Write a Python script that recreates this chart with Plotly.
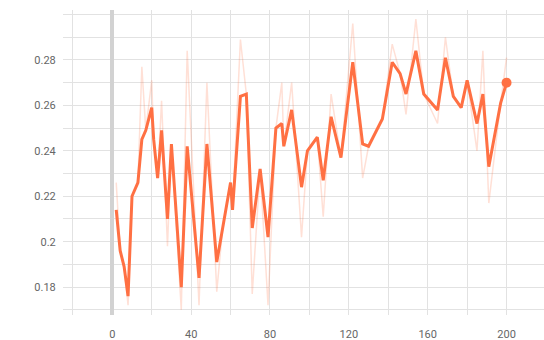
import plotly.graph_objects as go

# training steps and the logged metric (raw) plus its smoothed curve
steps = [2, 4, 6, 8, 10, 12, 13, 15, 17, 20, 21, 23, 25, 28, 30, 35, 38, 44, 48, 53,
         56, 60, 61, 65, 68, 71, 75, 79, 83, 86, 87, 91, 96, 99, 104, 107, 111, 116, 122, 127,
         130, 137, 142, 146, 149, 154, 158, 165, 169, 173, 177, 180, 185, 188, 191, 197, 200]

smoothed = [0.214, 0.196, 0.189, 0.176, 0.220, 0.224, 0.226, 0.245, 0.249, 0.259,
            0.245, 0.228, 0.249, 0.210, 0.243, 0.180, 0.242, 0.184, 0.243, 0.191,
            0.206, 0.226, 0.214, 0.264, 0.265, 0.206, 0.232, 0.202, 0.250, 0.252,
            0.242, 0.258, 0.224, 0.240, 0.246, 0.227, 0.255, 0.237, 0.279, 0.243,
            0.242, 0.254, 0.279, 0.274, 0.265, 0.284, 0.265, 0.258, 0.281, 0.264,
            0.259, 0.271, 0.252, 0.265, 0.233, 0.261, 0.270]

raw = [0.226, 0.196, 0.189, 0.172, 0.220, 0.224, 0.226, 0.277, 0.249, 0.271,
       0.245, 0.228, 0.262, 0.198, 0.243, 0.170, 0.284, 0.172, 0.270, 0.178,
       0.206, 0.226, 0.214, 0.289, 0.265, 0.177, 0.232, 0.172, 0.250, 0.270,
       0.242, 0.270, 0.202, 0.240, 0.246, 0.211, 0.265, 0.237, 0.296, 0.228,
       0.242, 0.254, 0.287, 0.274, 0.256, 0.298, 0.265, 0.252, 0.290, 0.264,
       0.259, 0.271, 0.240, 0.284, 0.217, 0.261, 0.281]

x_ticks = [0, 40, 80, 120, 160, 200]
y_ticks = [0.18, 0.2, 0.22, 0.24, 0.26, 0.28]

ORANGE = "#ff7043"
GRID = "#e2e2e2"

fig = go.Figure()
fig.add_trace(go.Scatter(x=steps, y=raw, mode="lines",
                         line=dict(color="rgba(255,112,67,0.22)", width=1.5),
                         hoverinfo="skip"))
fig.add_trace(go.Scatter(x=steps, y=smoothed, mode="lines",
                         line=dict(color=ORANGE, width=3)))
fig.add_trace(go.Scatter(x=[steps[-1]], y=[smoothed[-1]], mode="markers",
                         marker=dict(color=ORANGE, size=10)))

fig.update_layout(
    width=544, height=340,
    margin=dict(l=63, r=0, t=10, b=25),
    paper_bgcolor="white", plot_bgcolor="white",
    showlegend=False,
    font=dict(family="Roboto", size=11, color="#666666"),
)
fig.update_xaxes(
    range=[-25, 219], tickvals=x_ticks,
    showgrid=True, gridcolor=GRID, gridwidth=1,
    minor=dict(dtick=20, tick0=0, showgrid=True, gridcolor=GRID, gridwidth=1),
    zeroline=True, zerolinecolor="#d2d2d2", zerolinewidth=4,
    ticks="outside", ticklen=9, tickcolor="rgba(0,0,0,0)",
    showline=False,
)
fig.update_yaxes(
    range=[0.1677, 0.302], tickvals=y_ticks,
    showgrid=True, gridcolor=GRID, gridwidth=1,
    minor=dict(dtick=0.01, tick0=0.17, showgrid=True, gridcolor=GRID, gridwidth=1),
    zeroline=False,
    ticks="outside", ticklen=4, tickcolor="rgba(0,0,0,0)",
    showline=False,
)

fig.write_html("out.html")
